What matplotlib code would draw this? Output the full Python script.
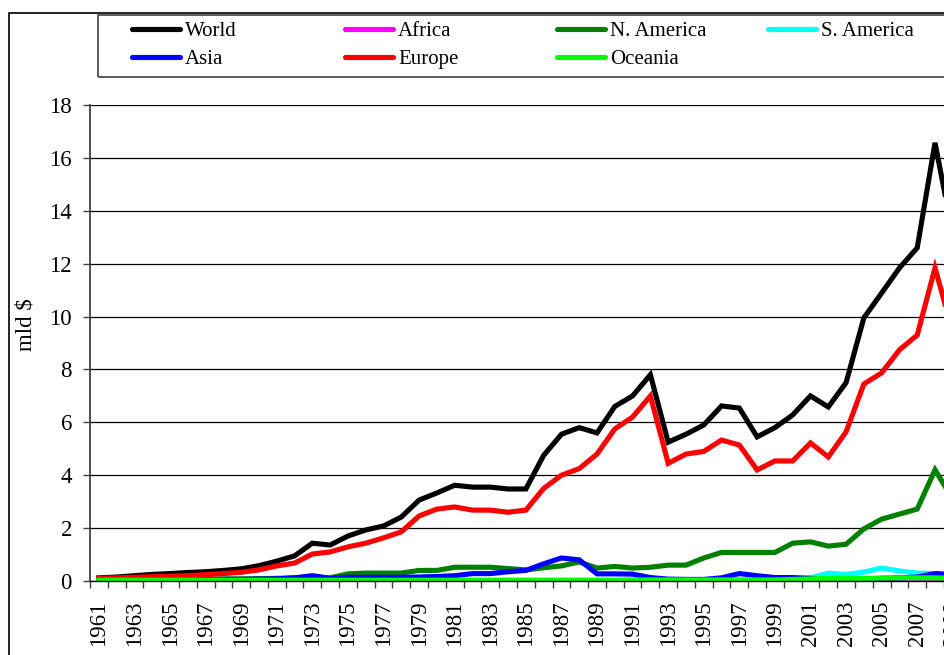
import numpy as np
import matplotlib
matplotlib.use("Agg")
import matplotlib.pyplot as plt
from matplotlib.lines import Line2D
from matplotlib.patches import Rectangle

plt.rcParams['font.family'] = ['Liberation Serif', 'DejaVu Serif']

years = list(range(1961, 2010))

world = [0.12, 0.15, 0.20, 0.25, 0.28, 0.32, 0.35, 0.40, 0.46, 0.58, 0.75, 0.95,
         1.43, 1.36, 1.70, 1.93, 2.08, 2.42, 3.06, 3.33, 3.62, 3.55, 3.55, 3.48,
         3.48, 4.75, 5.55, 5.80, 5.60, 6.60, 7.00, 7.80, 5.25, 5.55, 5.90, 6.62,
         6.54, 5.45, 5.80, 6.28, 7.00, 6.58, 7.50, 9.95, 10.89, 11.84, 12.60, 16.57,
         13.10]
africa = [0.01] * 40 + [0.01, 0.02, 0.02, 0.02, 0.02, 0.02, 0.02, 0.02, 0.02]
n_america = [0.05, 0.05, 0.05, 0.06, 0.06, 0.07, 0.07, 0.08, 0.08, 0.09, 0.10, 0.12,
             0.15, 0.12, 0.27, 0.30, 0.30, 0.30, 0.40, 0.40, 0.52, 0.52, 0.52, 0.47,
             0.42, 0.50, 0.57, 0.72, 0.49, 0.55, 0.49, 0.52, 0.60, 0.60, 0.87, 1.08,
             1.08, 1.08, 1.08, 1.43, 1.48, 1.32, 1.39, 1.97, 2.34, 2.53, 2.72, 4.20,
             3.10]
s_america = [0.02] * 39 + [0.05, 0.12, 0.30, 0.25, 0.34, 0.49, 0.38, 0.30, 0.28, 0.20]
asia = [0.03, 0.03, 0.03, 0.04, 0.04, 0.05, 0.05, 0.06, 0.06, 0.07, 0.08, 0.12,
        0.20, 0.10, 0.14, 0.14, 0.14, 0.14, 0.15, 0.17, 0.20, 0.28, 0.28, 0.35,
        0.40, 0.65, 0.87, 0.80, 0.27, 0.27, 0.26, 0.13, 0.07, 0.06, 0.06, 0.12,
        0.28, 0.20, 0.13, 0.13, 0.10, 0.05, 0.05, 0.07, 0.10, 0.12, 0.15, 0.28,
        0.25]
europe = [0.10, 0.12, 0.14, 0.16, 0.18, 0.20, 0.24, 0.28, 0.33, 0.42, 0.57, 0.68,
          1.02, 1.10, 1.29, 1.43, 1.63, 1.86, 2.46, 2.72, 2.80, 2.68, 2.68, 2.60,
          2.68, 3.50, 4.00, 4.25, 4.80, 5.75, 6.20, 7.00, 4.45, 4.80, 4.90, 5.33,
          5.14, 4.20, 4.54, 4.54, 5.22, 4.69, 5.64, 7.45, 7.87, 8.74, 9.30, 11.84,
          9.40]
oceania = [0.03] * 30 + [0.04] * 9 + [0.06, 0.08, 0.10, 0.10, 0.10, 0.11, 0.12, 0.12, 0.12, 0.10]

names = ['World', 'Africa', 'N. America', 'S. America', 'Asia', 'Europe', 'Oceania']
colors = ['#000000', '#FF00FF', '#008000', '#00FFFF', '#0000FF', '#FF0000', '#00FF00']
series = [world, africa, n_america, s_america, asia, europe, oceania]

W, H = 944, 655
fig = plt.figure(figsize=(W / 100, H / 100), dpi=100)

# plot area runs past the right edge, like the cropped original
n = len(years)
px_per_year = 17.79
ax = fig.add_axes([90 / W, 1 - 581 / H, n * px_per_year / W, 476 / H])

x = np.arange(n)
for vals, c in zip(series, colors):
    ax.plot(x, vals, color=c, lw=3.7, solid_joinstyle='miter')

ax.set_xlim(-0.5, n - 0.5)
ax.set_ylim(0, 18)
ax.set_yticks(np.arange(0, 19, 2))
ax.tick_params(axis='y', length=5, width=1, color='#404040', labelsize=16.5, pad=8)
ax.yaxis.grid(True, color='black', lw=0.9)
ax.set_axisbelow(True)

ax.set_xticks(x[::2])
ax.set_xticklabels([str(y) for y in years[::2]], rotation=90)
ax.set_xticks(np.arange(-0.5, n), minor=True)
ax.tick_params(axis='x', which='major', length=0, labelsize=16.5, pad=14)
ax.tick_params(axis='x', which='minor', length=5, width=1, color='#404040')

for s in ['top', 'right']:
    ax.spines[s].set_visible(False)
ax.spines['left'].set_color('#404040')
ax.spines['left'].set_linewidth(1.3)
ax.spines['bottom'].set_color('black')
ax.spines['bottom'].set_linewidth(1)

fig.text(26 / W, 1 - 325 / H, 'mld $', rotation=90, fontsize=16.5,
         ha='center', va='center')

# chart area border
fig.add_artist(Rectangle((9 / W, -0.1), 1.2, 1 - 13 / H + 0.1, transform=fig.transFigure,
                         fill=False, edgecolor='black', lw=1.2))

# legend box laid out in Excel style: equal column widths
fig.add_artist(Rectangle((98 / W, 1 - 77 / H), 1.0, 62 / H, transform=fig.transFigure,
                         fill=False, edgecolor='#404040', lw=1.2))
col_x = [130, 343, 555, 766]
row_y = [29, 57]
for i, (name, c) in enumerate(zip(names, colors)):
    r, k = divmod(i, 4)
    x0 = col_x[k]
    y0 = 1 - row_y[r] / H
    fig.add_artist(Line2D([(x0 + 2) / W, (x0 + 50) / W], [y0, y0], transform=fig.transFigure,
                          color=c, lw=3.7, solid_capstyle='round'))
    fig.text((x0 + 55) / W, 1 - (row_y[r] + 7) / H, name, fontsize=15,
             ha='left', va='baseline')

fig.savefig('out.png', dpi=100)
